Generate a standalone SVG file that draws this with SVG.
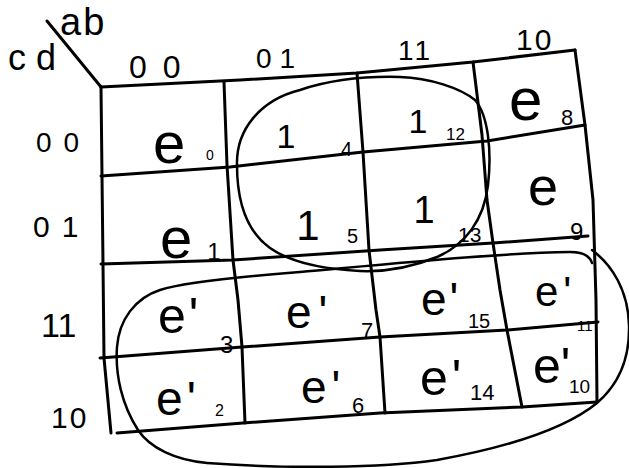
<svg xmlns="http://www.w3.org/2000/svg" width="629" height="468" viewBox="0 0 629 468">
<style>
.ln{fill:none;stroke:#000;stroke-width:3;stroke-linecap:round;stroke-linejoin:round}
.lp{fill:none;stroke:#000;stroke-width:2.5;stroke-linecap:round;stroke-linejoin:round}
text{font-family:"Liberation Sans",Arial,sans-serif;fill:#000}
.one{text-anchor:middle}
</style>
<rect width="629" height="468" fill="#fff"/>
<g id="grid">
<polyline class="ln" points="47,21 101,87"/>
<polyline class="ln" points="101,87 240,80 357,73 473,62 575,50"/>
<polyline class="ln" points="101,176 230,167 363,152 487,141 585,125"/>
<polyline class="ln" points="101,264 233,260 380,250 493,243 588,236"/>
<polyline class="ln" points="100,358 242,347 380,337 507,330 598,322"/>
<polyline class="ln" points="117,433 243,423 380,413 522,407 597,402"/>
<polyline class="ln" points="101,87 102,176 103,264 104,358 111,433"/>
<polyline class="ln" points="224,82 227,165 233,260 238,300 242,347 245,423"/>
<polyline class="ln" points="357,73 363,152 369,250 376,310 380,337 385,413"/>
<polyline class="ln" points="473,62 482,135 487,200 493,243 500,290 507,330 522,407"/>
<polyline class="ln" points="575,50 585,125 593,200 596,300 597,402"/>
</g>
<g id="loops">
<path class="lp" d="M237,165 C236,130 260,100 300,90 C330,80 360,76 400,77 C430,78 460,88 475,100 C488,115 492,150 488,185 C484,220 465,245 437,257 C410,268 385,272 360,271 C320,269 290,262 270,248 C245,230 237,200 237,165 Z"/>
<path class="lp" d="M592,250 C612,265 628,290 629,325 C630,360 618,385 597,403 C570,425 520,445 437,460 C380,468 290,469 207,463 C175,460 150,448 138,430 C122,405 115,375 117,347 C119,320 135,298 160,290 C185,282 250,276 300,272 C400,263 500,253 570,252 C582,252 590,256 592,263"/>
</g>
<g id="labels">
<text x="60" y="35" style="font-size:38px;letter-spacing:2px">ab</text>
<text x="8" y="70" style="font-size:36px;letter-spacing:10px">cd</text>
<text x="129" y="78" style="font-size:32px;letter-spacing:16px">00</text>
<text x="256" y="68" style="font-size:28px;letter-spacing:8px">01</text>
<text x="398" y="60" style="font-size:28px;letter-spacing:3px">11</text>
<text x="516" y="50" style="font-size:30px;letter-spacing:2px">10</text>
<text x="36" y="152" style="font-size:28px;letter-spacing:12px">00</text>
<text x="33" y="237" style="font-size:30px;letter-spacing:12px">01</text>
<text x="41" y="337" style="font-size:34px;letter-spacing:0px">11</text>
<text x="51" y="428" style="font-size:30px;letter-spacing:2px">10</text>
</g>
<g id="cell-0"><text x="153" y="163" style="font-size:58px">e</text><text x="206" y="160" style="font-size:14px">0</text></g>
<g id="cell-4"><text class="one" x="286" y="148" style="font-size:34px">1</text><text x="341" y="156" style="font-size:20px">4</text></g>
<g id="cell-12"><text class="one" x="418" y="133" style="font-size:34px">1</text><text x="446" y="140" style="font-size:17px">12</text></g>
<g id="cell-8"><text x="509" y="120" style="font-size:60px">e</text><text x="561" y="125" style="font-size:22px">8</text></g>
<g id="cell-1"><text x="160" y="258" style="font-size:58px">e</text><text class="one" x="214" y="260" style="font-size:24px">1</text></g>
<g id="cell-5"><text class="one" x="308" y="240" style="font-size:42px">1</text><text x="347" y="243" style="font-size:20px">5</text></g>
<g id="cell-13"><text class="one" x="424" y="223" style="font-size:38px">1</text><text x="458" y="242" style="font-size:21px">13</text></g>
<g id="cell-9"><text x="528" y="205" style="font-size:54px">e</text><text x="570" y="240" style="font-size:24px">9</text></g>
<g id="cell-3"><text x="158" y="333" style="font-size:50px;letter-spacing:3px">e'</text><text x="220" y="353" style="font-size:24px">3</text></g>
<g id="cell-7"><text x="286" y="328" style="font-size:46px;letter-spacing:7px">e'</text><text x="361" y="338" style="font-size:22px">7</text></g>
<g id="cell-15"><text x="421" y="315" style="font-size:46px;letter-spacing:3px">e'</text><text x="468" y="328" style="font-size:20px">15</text></g>
<g id="cell-11"><text x="535" y="306" style="font-size:42px;letter-spacing:5px">e'</text><text x="577" y="331" style="font-size:15px">11</text></g>
<g id="cell-2"><text x="156" y="415" style="font-size:48px;letter-spacing:4px">e'</text><text x="215" y="416" style="font-size:16px">2</text></g>
<g id="cell-6"><text x="301" y="403" style="font-size:46px;letter-spacing:5px">e'</text><text x="352" y="413" style="font-size:22px">6</text></g>
<g id="cell-14"><text x="420" y="395" style="font-size:50px;letter-spacing:4px">e'</text><text x="470" y="400" style="font-size:22px">14</text></g>
<g id="cell-10"><text x="533" y="383" style="font-size:50px">e'</text><text x="569" y="393" style="font-size:19px">10</text></g>
</svg>
